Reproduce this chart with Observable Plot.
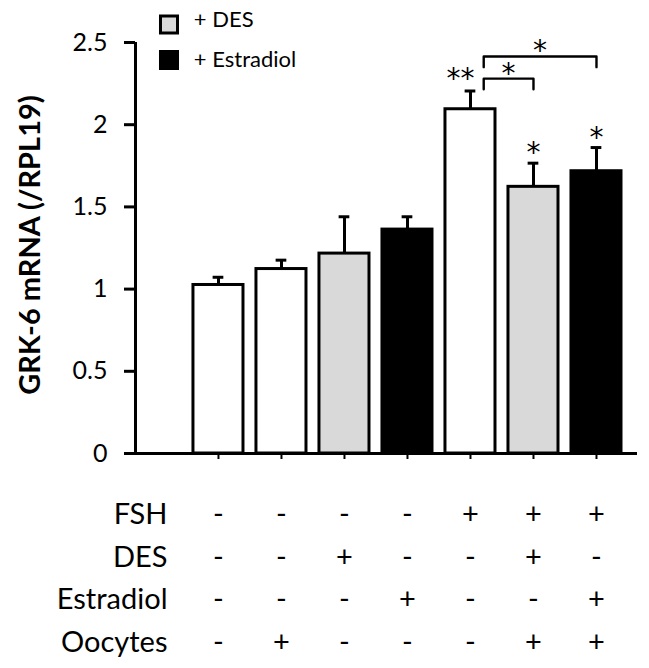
<!DOCTYPE html>
<html><head><meta charset="utf-8">
<script src="https://cdn.jsdelivr.net/npm/d3@7"></script>
<script src="https://cdn.jsdelivr.net/npm/@observablehq/plot@0.6"></script>
<style>body{margin:0;background:#fff} svg{display:block}</style>
</head><body><div id="chart"></div>
<script>
// ---- data ----
const groups = ["Control", "Oocytes", "DES", "Estradiol", "FSH", "FSH+DES+Oocytes", "FSH+Estradiol+Oocytes"];
const means = [1.025, 1.122, 1.216, 1.362, 2.094, 1.622, 1.717];
const sems  = [0.047, 0.054, 0.224, 0.078, 0.111, 0.144, 0.144];
const treatment = ["none", "none", "DES", "Estradiol", "none", "DES", "Estradiol"];
const starLabels = ["", "", "", "", "**", "*", "*"];
const rowNames = ["FSH", "DES", "Estradiol", "Oocytes"];
const fsh       = ["-", "-", "-", "-", "+", "+", "+"];
const des       = ["-", "-", "+", "-", "-", "+", "-"];
const estradiol = ["-", "-", "-", "+", "-", "-", "+"];
const oocytes   = ["-", "+", "-", "-", "-", "+", "+"];
const yTicks = [0, 0.5, 1, 1.5, 2, 2.5];
const legendLabels = ["+ DES", "+ Estradiol"];
const legendKeys = ["DES", "Estradiol"];
const bracketFrom = [5, 5];
const bracketTo = [6, 7];
const bracketLevel = [2.28, 2.415];
const bracketLabel = ["*", "*"];

// ---- styling ----
const fillOf = {none: "white", DES: "#d9d9d9", Estradiol: "black"};
const FONT = "Lato, 'Open Sans', sans-serif";
const STARFONT = "'DejaVu Sans', sans-serif";
const xDomain = [-0.317, 7.651];
const halfBar = 0.397, halfCap = 0.085, legOffset = 0.21, legDrop = 0.065;

const bars = groups.map((g, k) => ({g, i: k + 1, mean: means[k], top: means[k] + sems[k], t: treatment[k], star: starLabels[k]}));
const rows = [fsh, des, estradiol, oocytes];
const rowDy = [70.7, 113.7, 155.7, 198.7];

const brackets = [];
bracketFrom.forEach((f, k) => {
  const a = f + legOffset, b = bracketTo[k], y = bracketLevel[k];
  brackets.push({id: k, x: a, y: y - legDrop}, {id: k, x: a, y}, {id: k, x: b, y}, {id: k, x: b, y: y - legDrop});
});
const bracketStars = bracketFrom.map((f, k) => ({x: (f + legOffset + bracketTo[k]) / 2, y: bracketLevel[k], label: bracketLabel[k]}));

const marks = [
  // bars
  Plot.rect(bars, {x1: d => d.i - halfBar, x2: d => d.i + halfBar, y1: 0, y2: "mean",
    fill: d => fillOf[d.t], stroke: "black", strokeWidth: 3}),
  // error bars
  Plot.ruleX(bars, {x: "i", y1: "mean", y2: "top", stroke: "black", strokeWidth: 3}),
  Plot.ruleY(bars, {y: "top", x1: d => d.i - halfCap, x2: d => d.i + halfCap, stroke: "black", strokeWidth: 3}),
  // axes
  Plot.ruleY([0], {stroke: "black", strokeWidth: 3}),
  Plot.ruleX([xDomain[0]], {y1: 0, y2: 2.5, stroke: "black", strokeWidth: 3}),
  Plot.axisY({ticks: yTicks, tickSize: 11, tickPadding: 17, tickFormat: d => String(d),
    strokeWidth: 3, fontSize: 25, label: null}),
  Plot.axisX({ticks: bars.map(d => d.i), tickSize: 6, tickFormat: () => "", strokeWidth: 2, label: null}),
  // significance stars above bars
  Plot.text(bars.filter(d => d.star === "*"), {x: "i", y: "top", text: "star", dy: -1,
    lineAnchor: "bottom", fontSize: 28, fontFamily: STARFONT}),
  Plot.text(bars.filter(d => d.star === "**"), {x: "i", y: "top", text: "star", dx: -10, dy: -3,
    lineAnchor: "bottom", fontSize: 28, fontFamily: STARFONT}),
  // brackets
  Plot.line(brackets, {x: "x", y: "y", z: "id", stroke: "black", strokeWidth: 2.4, curve: "linear"}),
  Plot.text(bracketStars, {x: "x", y: "y", text: "label", dy: 4, lineAnchor: "bottom", fontSize: 28, fontFamily: STARFONT}),
  // y title
  Plot.text(["GRK-6 mRNA (/RPL19)"], {frameAnchor: "left", rotate: -90, dx: -105, dy: -3,
    textAnchor: "middle", fontWeight: "bold", fontSize: 29}),
  // legend
  ...legendKeys.map((key, k) => Plot.dot([key], {frameAnchor: "top-left", dx: 33.5, dy: [-18, 17.5][k],
    symbol: "square", r: 9.6, fill: d => fillOf[d], stroke: "black", strokeWidth: 3})),
  ...legendLabels.map((lab, k) => Plot.text([lab], {frameAnchor: "top-left", dx: 58.3, dy: [-16, 24][k],
    textAnchor: "start", lineAnchor: "bottom", fontSize: 22})),
];

// treatment table below the axis
rows.forEach((vals, r) => {
  marks.push(Plot.text(bars, {x: "i", y: 0, text: d => vals[d.i - 1], dy: rowDy[r],
    lineAnchor: "bottom", fontSize: 29}));
  marks.push(Plot.text([rowNames[r]], {frameAnchor: "bottom-left", dx: 32, dy: rowDy[r],
    textAnchor: "end", lineAnchor: "bottom", fontSize: 29}));
});

const chart = Plot.plot({
  width: 649, height: 668,
  marginLeft: 135, marginRight: 12, marginTop: 42, marginBottom: 215,
  x: {type: "linear", domain: xDomain, axis: null},
  y: {domain: [0, 2.5], axis: null},
  style: {fontFamily: FONT, fontSize: "25px", color: "black", background: "white", overflow: "visible"},
  marks
});
document.getElementById("chart").append(chart);
</script>
</body></html>
